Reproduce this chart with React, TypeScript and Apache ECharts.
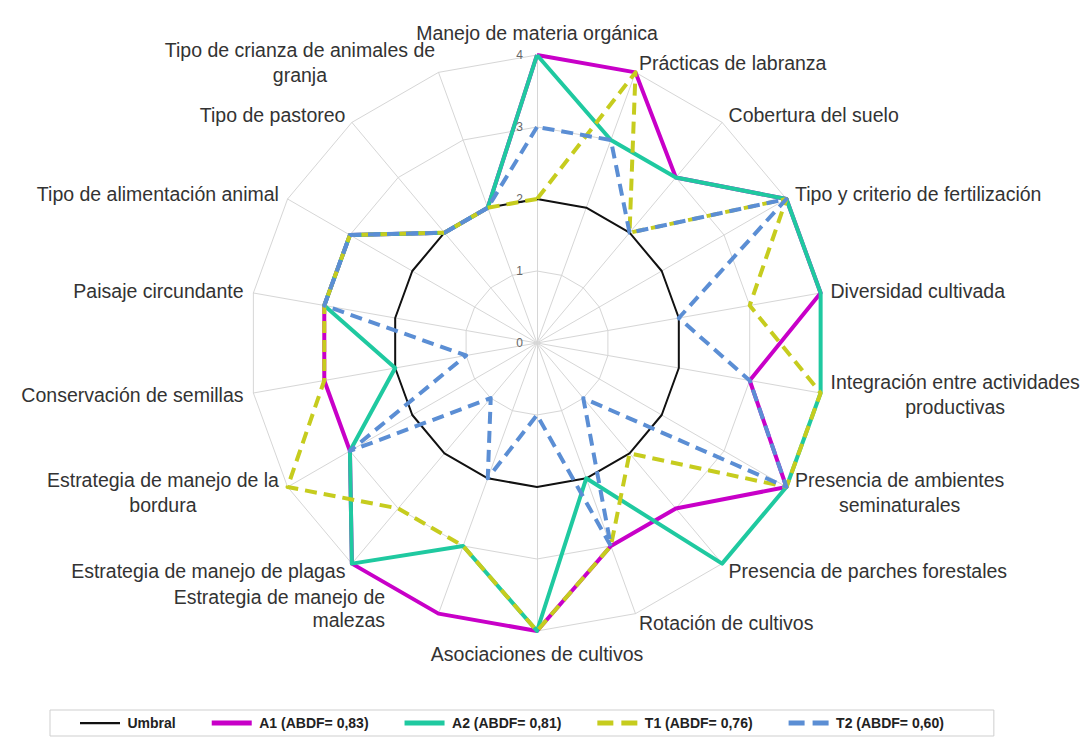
import React, { useEffect, useRef } from "react";
import * as echarts from "echarts";

// Indicators in clockwise order starting at the top
const indicatorNames = [
  "Manejo de materia orgánica",
  "Prácticas de labranza",
  "Cobertura del suelo",
  "Tipo y criterio de fertilización",
  "Diversidad cultivada",
  "Integración entre actividades\nproductivas",
  "Presencia de ambientes\nseminaturales",
  "Presencia de parches forestales",
  "Rotación de cultivos",
  "Asociaciones de cultivos",
  "Estrategia de manejo de\nmalezas",
  "Estrategia de manejo de plagas",
  "Estrategia de manejo de la\nbordura",
  "Conservación de semillas",
  "Paisaje circundante",
  "Tipo de alimentación animal",
  "Tipo de pastoreo",
  "Tipo de crianza de animales de\ngranja",
];

const umbral = [2, 2, 2, 2, 2, 2, 2, 2, 2, 2, 2, 2, 2, 2, 2, 2, 2, 2];
const a1 = [4, 4, 3, 4, 4, 3, 4, 3, 3, 4, 4, 4, 3, 3, 3, 3, 2, 2];
const a2 = [4, 3, 3, 4, 4, 4, 4, 4, 2, 4, 3, 4, 3, 2, 3, 3, 2, 2];
const t1 = [2, 4, 2, 4, 3, 4, 4, 2, 3, 4, 3, 3, 4, 3, 3, 3, 2, 2];
const t2 = [3, 3, 2, 4, 2, 3, 4, 1, 3, 1, 2, 1, 3, 1, 3, 3, 2, 2];

const seriesNames = [
  "Umbral",
  "A1 (ABDF= 0,83)",
  "A2 (ABDF= 0,81)",
  "T1 (ABDF= 0,76)",
  "T2 (ABDF= 0,60)",
];
const seriesColors = ["#111111", "#C800C8", "#1FC9A0", "#C6CC1E", "#5B8ED4"];

const FONT = "'Liberation Sans', Arial, sans-serif";

// ECharts lays radar indicators counter-clockwise; reorder to get clockwise layout
const ccw = <T,>(arr: T[]): T[] => [arr[0], ...arr.slice(1).reverse()];

export default function App() {
  const ref = useRef<HTMLDivElement>(null);

  useEffect(() => {
    if (!ref.current) return;
    const chart = echarts.init(ref.current, undefined, { renderer: "svg" });

    const names = ccw(indicatorNames);
    const indicator = names.map((n, k) => {
      const ind: any = { name: n, min: 0, max: 4 };
      if (k === 0) {
        ind.axisLabel = {
          show: true,
          color: "#666",
          fontSize: 12,
          fontFamily: FONT,
          margin: 14,
        };
      }
      return ind;
    });

    const dataSets = [umbral, a1, a2, t1, t2];
    const series = dataSets.map((d, i) => {
      const dashed = i >= 3;
      return {
        type: "radar",
        name: seriesNames[i],
        color: seriesColors[i],
        symbol: "none",
        silent: true,
        z: 2 + i,
        lineStyle: {
          color: seriesColors[i],
          width: i === 0 ? 2 : 4,
          type: dashed ? [12, 7] : "solid",
        },
        emphasis: { disabled: true },
        data: [{ name: seriesNames[i], value: ccw(d) }],
      };
    });

    const solidIcon = "path://M0,0h40v5h-40z";
    const thinIcon = "path://M0,0h0.01v5h-0.01z M0,1.5h40v2.2h-40z";
    const dashIcon = "path://M0,0h16v5h-16z M24,0h16v5h-16z";

    const malezas = indicatorNames[10];

    chart.setOption({
      animation: false,
      backgroundColor: "#ffffff",
      radar: {
        center: [537, 343],
        radius: 288,
        startAngle: 90,
        shape: "polygon",
        splitNumber: 4,
        nameGap: 10,
        indicator,
        axisName: {
          color: "#333",
          fontSize: 19.5,
          fontFamily: FONT,
          formatter: (name: string) => {
            if (name === malezas) {
              return (
                name
                  .split("\n")
                  .map((l) => "{m|" + l + "}")
                  .join("\n") + "\n{sp| }"
              );
            }
            return name
              .split("\n")
              .map((l) => "{c|" + l + "}")
              .join("\n");
          },
          rich: {
            c: {
              align: "center",
              fontSize: 19.5,
              lineHeight: 25,
              color: "#333",
              fontFamily: FONT,
            },
            m: {
              align: "right",
              fontSize: 19.5,
              lineHeight: 23,
              color: "#333",
              fontFamily: FONT,
              padding: [0, 50, 0, 0],
            },
            sp: {
              fontSize: 1,
              lineHeight: 29,
            },
          },
        },
        axisLine: { lineStyle: { color: "#d6d6d6", width: 1 } },
        splitLine: { lineStyle: { color: "#d6d6d6", width: 1 } },
        splitArea: { show: false },
        axisTick: { show: false },
        axisLabel: { show: false },
      },
      legend: {
        left: 50,
        top: 710,
        padding: [6, 50, 6, 30],
        itemGap: 36,
        itemWidth: 45,
        itemHeight: 5,
        borderColor: "#cfcfcf",
        borderWidth: 1,
        selectedMode: false,
        itemStyle: { borderWidth: 0 },
        textStyle: {
          fontSize: 14,
          fontWeight: "bold",
          color: "#222",
          fontFamily: FONT,
        },
        data: [
          { name: seriesNames[0], icon: thinIcon },
          { name: seriesNames[1], icon: solidIcon },
          { name: seriesNames[2], icon: solidIcon },
          { name: seriesNames[3], icon: dashIcon },
          { name: seriesNames[4], icon: dashIcon },
        ],
      },
      series,
    });

    return () => chart.dispose();
  }, []);

  return (
    <div
      ref={ref}
      style={{ position: "fixed", left: 0, top: 0, width: 1092, height: 739 }}
    />
  );
}
